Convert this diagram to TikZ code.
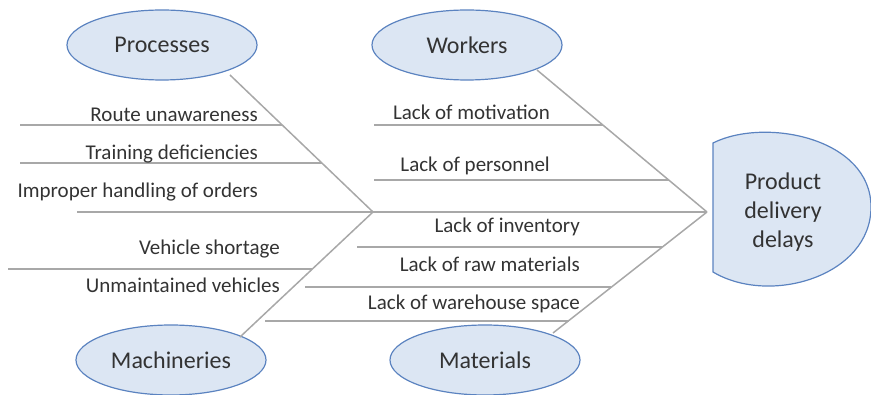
\documentclass[tikz,border=0pt]{standalone}
\usepackage{fontspec}
\setmainfont{Carlito}
\usetikzlibrary{shapes.geometric}
\definecolor{bonefill}{HTML}{DCE6F3}
\definecolor{bonedraw}{HTML}{5B83C0}
\definecolor{ribgray}{HTML}{A8A8A8}
\definecolor{txtgray}{HTML}{333333}
\tikzset{
  cat/.style={ellipse, draw=bonedraw, fill=bonefill, line width=1.2pt,
    minimum width=190pt, minimum height=70pt, inner sep=0pt,
    text=txtgray, font=\fontsize{24pt}{28pt}\selectfont},
  cause/.style={anchor=base east, inner sep=0pt, text=txtgray,
    font=\fontsize{21pt}{25pt}\selectfont},
  rib/.style={draw=ribgray, line width=1.5pt},
  effect/.style={draw=bonedraw, fill=bonefill, line width=1.2pt},
}
\begin{document}
\begin{tikzpicture}[x=1pt,y=-1pt]
\useasboundingbox (0,0) rectangle (871,395);

% effect box
\path[effect] (713,143) .. controls (765,117) and (871,138) .. (871,207)
  .. controls (871,276) and (770,306) .. (713,272) -- cycle;
\node[text=txtgray, align=center, font=\fontsize{24pt}{29pt}\selectfont] (eff) at (783,212) {Product\\delivery\\delays};

% category ellipses
\node[cat] (proc) at (162,45) {Processes};
\node[cat] (work) at (467,45) {Workers};
\node[cat] (mach) at (171,360) {Machineries};
\node[cat] (matl) at (485,360) {Materials};

% spine
\coordinate (tail) at (77,212);
\coordinate (mid) at (373,212);
\coordinate (head) at (707,212);
\draw[rib] (tail) -- (head);

% diagonals
\coordinate (pS) at (230,75);
\coordinate (mS) at (240,337);
\coordinate (wS) at (537,70);
\coordinate (tS) at (553,333);
\draw[rib] (pS) -- (mid);
\draw[rib] (mS) -- (mid);
\draw[rib] (wS) -- (head);
\draw[rib] (tS) -- (head);

% ribs
\coordinate (r1a) at (20,125);  \coordinate (r1b) at (282,125);
\coordinate (r2a) at (20,163);  \coordinate (r2b) at (322,163);
\coordinate (r3a) at (8,269);   \coordinate (r3b) at (312,269);
\coordinate (r4a) at (374,125); \coordinate (r4b) at (603,125);
\coordinate (r5a) at (374,180); \coordinate (r5b) at (669,180);
\coordinate (r6a) at (357,247); \coordinate (r6b) at (662,247);
\coordinate (r7a) at (305,287); \coordinate (r7b) at (611,287);
\coordinate (r8a) at (265,321); \coordinate (r8b) at (569,321);
\foreach \i in {1,...,8} { \draw[rib] (r\i a) -- (r\i b); }

% cause labels
\node[cause] (c1) at (258,122) {Route unawareness};
\node[cause] (c2) at (258,160) {Training deficiencies};
\node[cause] (c3) at (258,198) {Improper handling of orders};
\node[cause] (c4) at (280,255) {Vehicle shortage};
\node[cause] (c5) at (280,293) {Unmaintained vehicles};
\node[cause] (c6) at (550,120) {Lack of motivation};
\node[cause] (c7) at (550,172) {Lack of personnel};
\node[cause] (c8) at (580,233) {Lack of inventory};
\node[cause] (c9) at (580,272) {Lack of raw materials};
\node[cause] (c10) at (580,310) {Lack of warehouse space};
\end{tikzpicture}
\end{document}
